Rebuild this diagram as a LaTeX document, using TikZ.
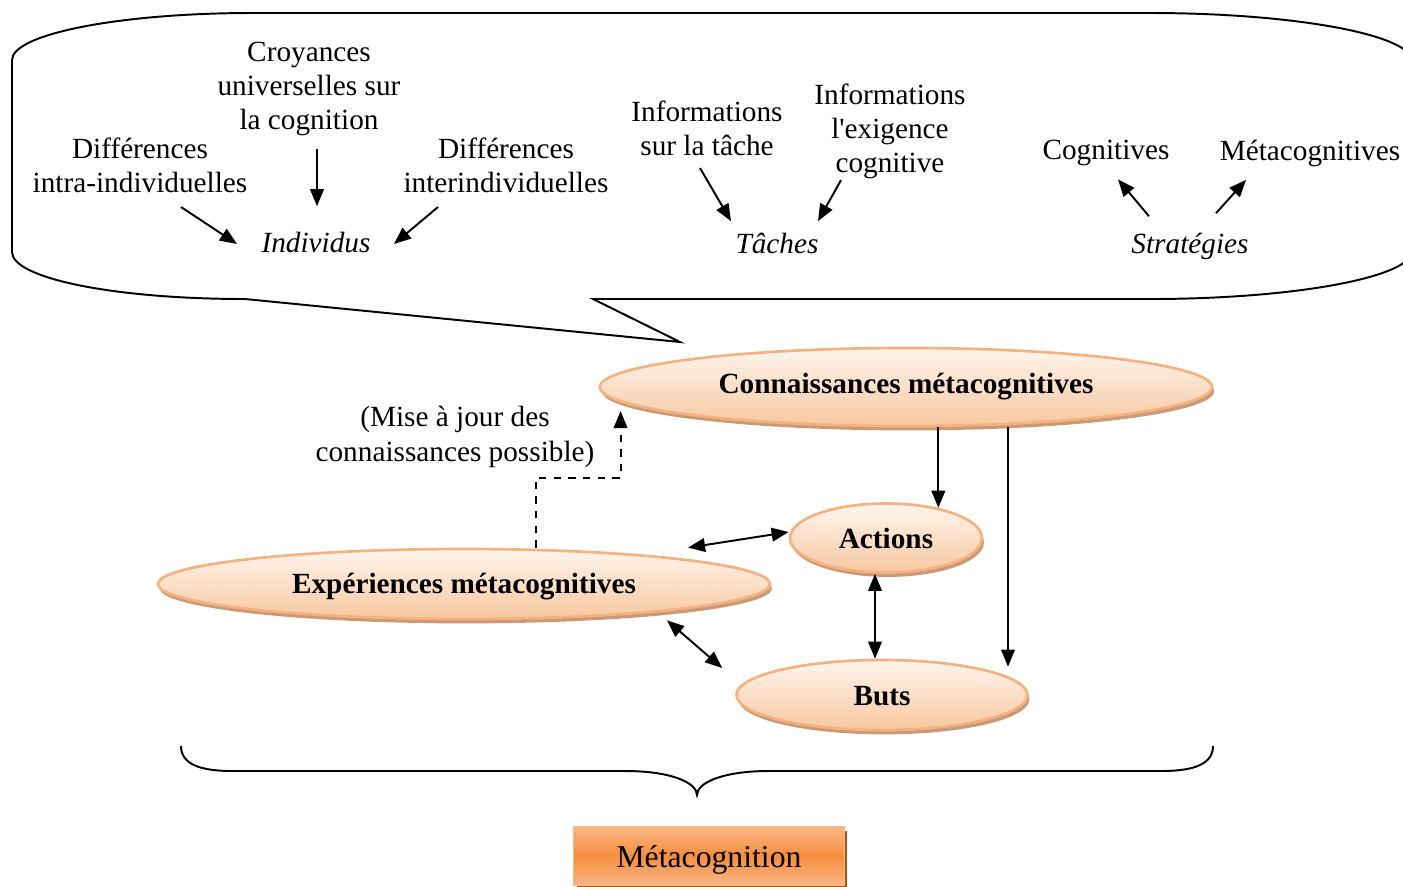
\documentclass[tikz,border=0pt]{standalone}
\usepackage{fontspec}
\setmainfont{Liberation Serif}
\newfontfamily\rawserif{Liberation Serif}
\usetikzlibrary{arrows.meta,shapes.geometric,shadows}
\definecolor{ellline}{HTML}{F5B27E}
\definecolor{elltop}{HTML}{FEF5EE}
\definecolor{ellbot}{HTML}{F8C8A0}
\definecolor{rim}{HTML}{C99A78}
\definecolor{boxmid}{HTML}{F58E3D}
\definecolor{boxlight}{HTML}{FAB686}
\definecolor{boxshadow}{HTML}{A8560F}
\newcommand{\descend}[2]{\raisebox{-#1}[\height][\depth]{#2}}

\begin{document}
\begin{tikzpicture}[x=0.41pt,y=-0.41pt,
  txt/.style={align=center,inner sep=0pt,font=\fontsize{12}{14}\selectfont},
  cat/.style={txt,font=\fontsize{12}{14}\selectfont\itshape},
  arr/.style={-{Triangle[length=7pt,width=5.6pt]},line width=0.8pt},
  darr/.style={{Triangle[length=7pt,width=5.6pt]}-{Triangle[length=7pt,width=5.6pt]},line width=0.8pt},
  bulle/.style={ellipse,draw=ellline,line width=1.1pt,top color=elltop,bottom color=ellbot,
    inner sep=0pt,font=\fontsize{12}{14}\selectfont\bfseries,
    drop shadow={shadow xshift=0.8pt,shadow yshift=-1.8pt,fill=rim,opacity=1}},
  titre/.style={rectangle,draw=boxlight,line width=0.6pt,top color=boxlight,bottom color=boxlight,
    middle color=boxmid,minimum width=111pt,minimum height=23.8pt,
    font=\fontsize{13}{15}\selectfont,
    drop shadow={shadow xshift=1.2pt,shadow yshift=-1.8pt,fill=boxshadow,opacity=1}}]
  \useasboundingbox (0,0) rectangle (1403,886);

  \draw[line width=0.8pt] (245,299) .. controls (113,299) and (12,278) .. (12,252)
    -- (12,60) .. controls (12,34) and (120,13) .. (252,13)
    -- (1150,13) .. controls (1295,13) and (1412,35) .. (1412,61)
    -- (1412,251) .. controls (1412,277) and (1295,299) .. (1150,299)
    -- (593,299) -- (680,342) -- cycle;

  \node[txt] (cr) at (309,89) {Croyances\\universelles sur\\la cognition};
  \node[txt] (d1) at (140,165) {Différences\\intra-individuelles};
  \node[txt] (d2) at (506,165) {Différences\\interindividuelles};
  \node[cat] (ind) at (316,243) {Individus};
  \node[txt] (i1) at (707,128) {Informations\\sur la tâche};
  \node[txt] (i2) at (890,131) {Informations\\l{\rawserif'}exigence\\cognitive};
  \node[cat] (ta) at (777,243) {Tâches};
  \node[txt] (cg) at (1106,153) {Cognitives};
  \node[txt] (mc) at (1310,153) {Métacognitives};
  \node[cat] (st) at (1190,246) {Stratégies};

  \node[bulle,minimum width=251pt,minimum height=32pt] (cm) at (906,387) {Connaissances métacognitives};
  \node[bulle,minimum width=78.7pt,minimum height=28.3pt] (ac) at (886,538) {Actions};
  \node[bulle,minimum width=251pt,minimum height=28.7pt] (ex) at (464,584) {\descend{1.2pt}{Expériences métacognitives}};
  \node[bulle,minimum width=119.3pt,minimum height=28.7pt] (bu) at (882,695) {\descend{0.4pt}{Buts}};
  \node[txt] (mj) at (455,437) {(Mise à jour des\\connaissances possible)};
  \node[titre] (me) at (709,856) {\descend{1.6pt}{Métacognition}};

  \draw[arr] ([shift={(41,14)}]d1.south) -- ([shift={(-24,1)}]ind.west);
  \draw[arr] ([shift={(8,13)}]cr.south) -- ([shift={(1,-26)}]ind.north);
  \draw[arr] ([shift={(-68,14)}]d2.south) -- ([shift={(23,1)}]ind.east);
  \draw[arr] ([shift={(-7,12)}]i1.south) -- ([shift={(-46,-11)}]ta.north);
  \draw[arr] ([shift={(-49,1)}]i2.south) -- ([shift={(41,-11)}]ta.north);
  \draw[arr] ([shift={(-41,-16)}]st.north) -- ([shift={(12,13)}]cg.south);
  \draw[arr] ([shift={(26,-19)}]st.north) -- ([shift={(-64,13)}]mc.south);

  \draw[arr] (ac.30 |- cm.south) -- (ac.30);
  \draw[arr] ([shift={(126,0)}]bu.north |- cm.south) -- ([shift={(126,8)}]bu.north);
  \draw[darr] ([shift={(224,0)}]ex.north) -- ([shift={(0,-6)}]ac.west);
  \draw[darr] ([shift={(-11,0)}]ac.south) -- ([shift={(-7,0)}]bu.north);
  \draw[darr] ([shift={(203,0)}]ex.south) -- ([shift={(-13,-27)}]bu.west);
  \draw[arr,dashed] ([shift={(72,0)}]ex.north) -- ++(0,-70) -| ([shift={(22,24)}]cm.west);

  \draw[line width=0.8pt] (181,746) .. controls (181,764) and (200,771) .. (232,771)
    -- (625,771) .. controls (672,771) and (697,783) .. (697,795)
    .. controls (697,783) and (722,771) .. (769,771)
    -- (1162,771) .. controls (1194,771) and (1213,764) .. (1213,746);
\end{tikzpicture}
\end{document}
